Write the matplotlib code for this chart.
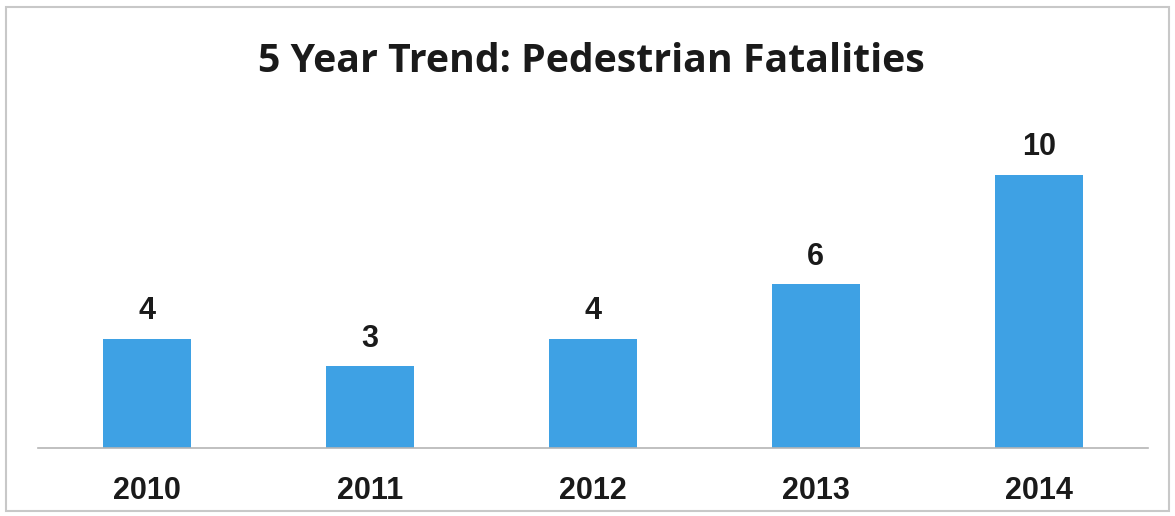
import matplotlib.pyplot as plt
from matplotlib.patches import Rectangle

years = ['2010', '2011', '2012', '2013', '2014']
fatalities = [4, 3, 4, 6, 10]

bar_color = '#3ea1e4'

fig = plt.figure(figsize=(11.75, 5.16), dpi=100)
ax = fig.add_axes([0.0323, 0.1318, 0.9447, 0.635])

x = range(len(years))
bars = ax.bar(x, fatalities, width=0.395, color=bar_color, zorder=2)

for b, v in zip(bars, fatalities):
    ax.annotate(str(v), (b.get_x() + b.get_width() / 2, v),
                xytext=(0, 9), textcoords='offset points',
                ha='center', va='bottom', fontsize=22, fontweight='bold',
                family='Liberation Sans', color='#1a1a1a')

ax.set_xlim(-0.49, 4.49)
ax.set_ylim(0, 12)
ax.set_xticks(list(x))
ax.set_xticklabels(years, fontsize=22, fontweight='bold', family='Liberation Sans', color='#1a1a1a')
ax.tick_params(axis='x', length=0, pad=20)
ax.set_yticks([])
for s in ['top', 'right', 'left']:
    ax.spines[s].set_visible(False)
ax.spines['bottom'].set_color('#b5b5b5')
ax.spines['bottom'].set_linewidth(1.2)

fig.text(0.503, 0.88, '5 Year Trend: Pedestrian Fatalities', ha='center', va='center',
         fontsize=28.3, fontweight='bold', family='Open Sans', color='#1a1a1a')

# light grey frame around the whole chart
fig.patches.append(Rectangle((6 / 1175, 5 / 516), 1163 / 1175, 504 / 516,
                             transform=fig.transFigure, fill=False,
                             edgecolor='#c8c8c8', linewidth=1.5))

fig.savefig('out.png', dpi=100)
